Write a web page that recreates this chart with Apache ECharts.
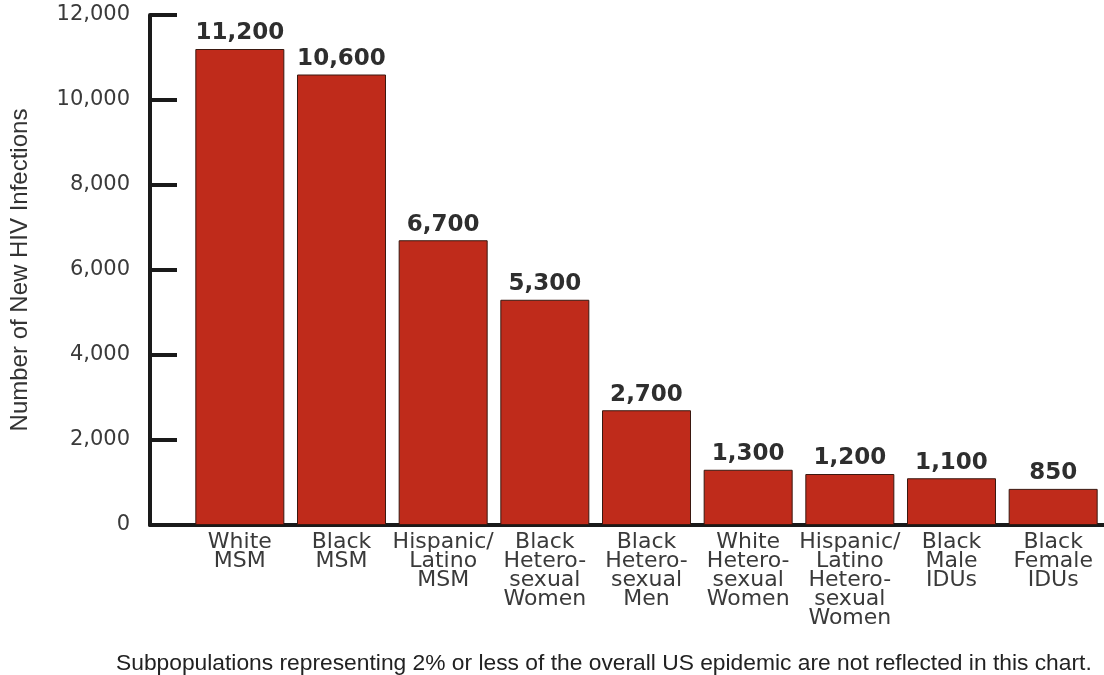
<!DOCTYPE html>
<html>
<head>
<meta charset="utf-8">
<script src="https://cdn.jsdelivr.net/npm/echarts@6/dist/echarts.min.js"></script>
<style>
  html, body { margin: 0; padding: 0; background: #ffffff; }
  #main { width: 1104px; height: 675px; }
</style>
</head>
<body>
<div id="main"></div>
<script>
// groups shown on the x axis
var categories = [
  'White\nMSM',
  'Black\nMSM',
  'Hispanic/\nLatino\nMSM',
  'Black\nHetero-\nsexual\nWomen',
  'Black\nHetero-\nsexual\nMen',
  'White\nHetero-\nsexual\nWomen',
  'Hispanic/\nLatino\nHetero-\nsexual\nWomen',
  'Black\nMale\nIDUs',
  'Black\nFemale\nIDUs'
];
// new HIV infections per group
var infections = [11200, 10600, 6700, 5300, 2700, 1300, 1200, 1100, 850];
var yTicks = [0, 2000, 4000, 6000, 8000, 10000, 12000];
var footNote = 'Subpopulations representing 2% or less of the overall US epidemic are not reflected in this chart.';

var chart = echarts.init(document.getElementById('main'));

var option = {
  animation: false,
  title: {
    text: footNote,
    left: 111,
    top: 647,
    textStyle: {
      fontFamily: 'Liberation Sans Narrow, Liberation Sans',
      fontSize: 22.8,
      fontWeight: 'normal',
      color: '#222'
    }
  },
  grid: [
    // grid holding the y axis and the long baseline
    { left: 148, right: 0, top: 15, bottom: 150 },
    // grid holding the bars
    { left: 189, right: -2, top: 15, bottom: 150 }
  ],
  xAxis: [
    {
      type: 'value',
      gridIndex: 0,
      min: 0,
      max: 1,
      axisLine: { show: true, lineStyle: { color: '#1a1a1a', width: 4 } },
      axisTick: { show: false },
      axisLabel: { show: false },
      splitLine: { show: false }
    },
    {
      type: 'category',
      gridIndex: 1,
      data: categories,
      axisLine: { show: false },
      axisTick: { show: false },
      axisLabel: {
        interval: 0,
        margin: 8,
        fontFamily: 'DejaVu Sans',
        fontSize: 22,
        lineHeight: 19,
        color: '#3a3a3a',
        align: 'center'
      }
    }
  ],
  yAxis: [
    {
      type: 'value',
      gridIndex: 0,
      min: yTicks[0],
      max: yTicks[yTicks.length - 1],
      interval: 2000,
      name: 'Number of New HIV Infections',
      nameLocation: 'middle',
      nameGap: 118,
      nameTextStyle: {
        fontFamily: 'Liberation Sans Narrow, Liberation Sans',
        fontSize: 24,
        color: '#333'
      },
      axisLine: { show: true, lineStyle: { color: '#1a1a1a', width: 4 } },
      axisTick: { show: true, inside: true, length: 27, lineStyle: { color: '#1a1a1a', width: 4 } },
      axisLabel: {
        margin: 20,
        fontFamily: 'DejaVu Sans',
        fontSize: 21,
        color: '#3a3a3a',
        formatter: function (v) { return echarts.format.addCommas(v); }
      },
      splitLine: { show: false }
    },
    {
      type: 'value',
      gridIndex: 1,
      min: yTicks[0],
      max: yTicks[yTicks.length - 1],
      show: false
    }
  ],
  series: [
    {
      type: 'bar',
      xAxisIndex: 1,
      yAxisIndex: 1,
      data: infections,
      barWidth: 89,
      itemStyle: { color: '#bf2b1b', borderColor: '#3a1810', borderWidth: 1 },
      label: {
        show: true,
        position: 'top',
        distance: 4,
        fontFamily: 'DejaVu Sans',
        fontSize: 23,
        fontWeight: 'bold',
        color: '#2e2e2e',
        formatter: function (p) { return echarts.format.addCommas(p.value); }
      }
    }
  ]
};

chart.setOption(option);
</script>
</body>
</html>
